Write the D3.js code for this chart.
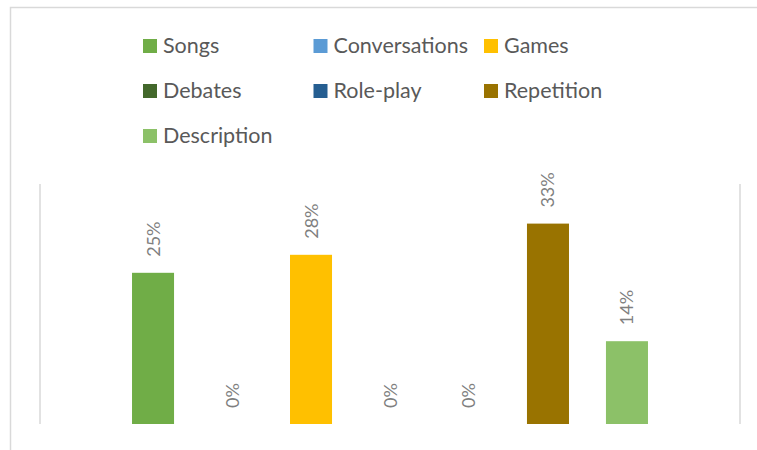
<!DOCTYPE html>
<html>
<head>
<meta charset="utf-8">
<script src="https://cdn.jsdelivr.net/npm/d3@7"></script>
<style>
  html, body { margin: 0; padding: 0; background: #fff; }
  svg { display: block; }
  .legend text { font-family: Lato, "Open Sans", sans-serif; fill: #595959; }
  .label { font-family: Lato, "Open Sans", sans-serif; fill: #7f7f7f; }
</style>
</head>
<body>
<svg id="chart"></svg>
<script>
/* ---------- Data ---------- */
const series = ["Songs", "Conversations", "Games", "Debates", "Role-play", "Repetition", "Description"];
const shares = [0.252, 0, 0.282, 0, 0, 0.334, 0.138];
const colours = ["#70ad47", "#5b9bd5", "#ffc000", "#43682b", "#255e91", "#997300", "#8cc168"];
const yDomain = [0, 0.4];

/* ---------- Layout ---------- */
const W = 757, H = 450;
const plot = {left: 40, right: 740, top: 184, bottom: 424};

const svg = d3.select("#chart").attr("width", W).attr("height", H);

// chart frame (cropped at right/bottom like the source)
svg.append("rect")
    .attr("x", 10.5).attr("y", 7.5)
    .attr("width", W + 20).attr("height", H + 20)
    .attr("fill", "none").attr("stroke", "#d9d9d9").attr("stroke-width", 1.5);

/* ---------- Scales ---------- */
const x = d3.scaleBand().domain(series)
    .range([plot.left, plot.right])
    .paddingInner(0.468).paddingOuter(1.165);
const y = d3.scaleLinear().domain(yDomain).range([plot.bottom, plot.top]);

// plot edges
svg.append("g").selectAll("line")
    .data([plot.left, plot.right])
    .join("line")
    .attr("x1", d => d).attr("x2", d => d)
    .attr("y1", plot.top).attr("y2", plot.bottom)
    .attr("stroke", "#d9d9d9").attr("stroke-width", 1.5);

/* ---------- Bars ---------- */
const rows = series.map((s, i) => ({name: s, value: shares[i], colour: colours[i]}));

svg.append("g").selectAll("rect")
    .data(rows)
    .join("rect")
    .attr("x", d => x(d.name))
    .attr("y", d => y(d.value))
    .attr("width", x.bandwidth())
    .attr("height", d => y(0) - y(d.value))
    .attr("fill", d => d.colour);

// rotated value labels above each bar
const fmtPct = d3.format(".0%");
svg.append("g").selectAll("text")
    .data(rows)
    .join("text")
    .attr("class", "label")
    .attr("font-size", 18)
    .attr("transform", d => `translate(${x(d.name) + x.bandwidth() / 2 + 6.5},${y(d.value) - 16}) rotate(-90)`)
    .text(d => fmtPct(d.value));

/* ---------- Legend ---------- */
const legCols = 3, legX0 = 143, legColW = 170.5, legY0 = 53, legRowH = 45, sw = 14;

const leg = svg.append("g").attr("class", "legend")
    .selectAll("g")
    .data(rows)
    .join("g")
    .attr("transform", (d, i) => `translate(${legX0 + (i % legCols) * legColW},${legY0 + Math.floor(i / legCols) * legRowH})`);

leg.append("rect")
    .attr("x", 0).attr("y", -sw)
    .attr("width", sw).attr("height", sw)
    .attr("fill", d => d.colour);

leg.append("text")
    .attr("x", sw + 6).attr("y", 0)
    .attr("font-size", 21.5)
    .text(d => d.name);
</script>
</body>
</html>
